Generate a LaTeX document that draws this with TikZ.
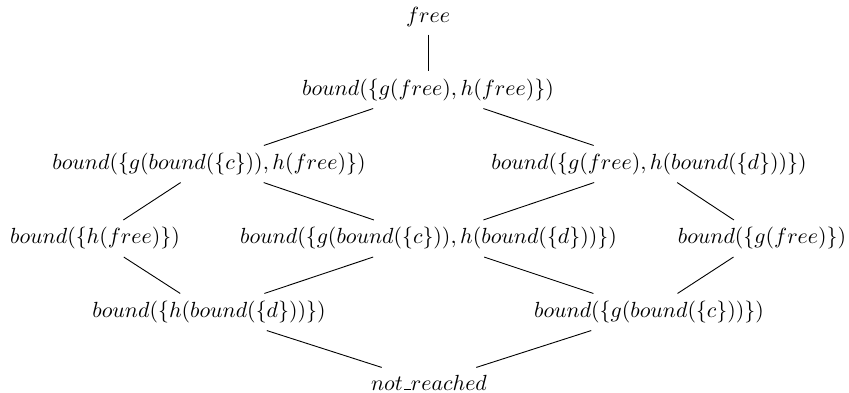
\documentclass[tikz,border=0pt]{standalone}
% short low rule used for the underscore in identifiers
\newcommand\idus{\leavevmode\kern.06em\vbox{\hrule width.3em}}
\begin{document}
\begin{tikzpicture}[x=0.5pt,y=-0.5pt,
  lat/.style={inner sep=0pt,outer sep=3.8pt,minimum width=130pt,
    font=\fontsize{11.4}{13.5}\selectfont},
  edge/.style={draw,line width=0.45pt}]
\useasboundingbox (0,0) rectangle (849,392);
\node[lat] (free) at (428,17.3) {$free$};
\node[lat] (top) at (428,90) {$bound(\{g(free),h(free)\})$};
\node[lat] (gc) at (209,164) {$bound(\{g(bound(\{c\})),h(free)\})$};
\node[lat] (hd) at (649,164) {$bound(\{g(free),h(bound(\{d\}))\})$};
\node[lat] (hf) at (95,238.5) {$bound(\{h(free)\})$};
\node[lat] (mid) at (428.5,238.5) {$bound(\{g(bound(\{c\})),h(bound(\{d\}))\})$};
\node[lat] (gf) at (762,238.5) {$bound(\{g(free)\})$};
\node[lat] (hbd) at (209,312) {$bound(\{h(bound(\{d\}))\})$};
\node[lat] (gbc) at (649,312) {$bound(\{g(bound(\{c\}))\})$};
\node[lat] (bot) at (429,382.6) {$not\idus reached$};
\draw[edge] (free) -- (top);
\draw[edge] (top) -- (gc);
\draw[edge] (top) -- (hd);
\draw[edge] (gc) -- (hf);
\draw[edge] (gc) -- (mid);
\draw[edge] (hd) -- (mid);
\draw[edge] (hd) -- (gf);
\draw[edge] (hf) -- (hbd);
\draw[edge] (mid) -- (hbd);
\draw[edge] (mid) -- (gbc);
\draw[edge] (gf) -- (gbc);
\draw[edge] (hbd) -- (bot);
\draw[edge] (gbc) -- (bot);
\end{tikzpicture}
\end{document}
